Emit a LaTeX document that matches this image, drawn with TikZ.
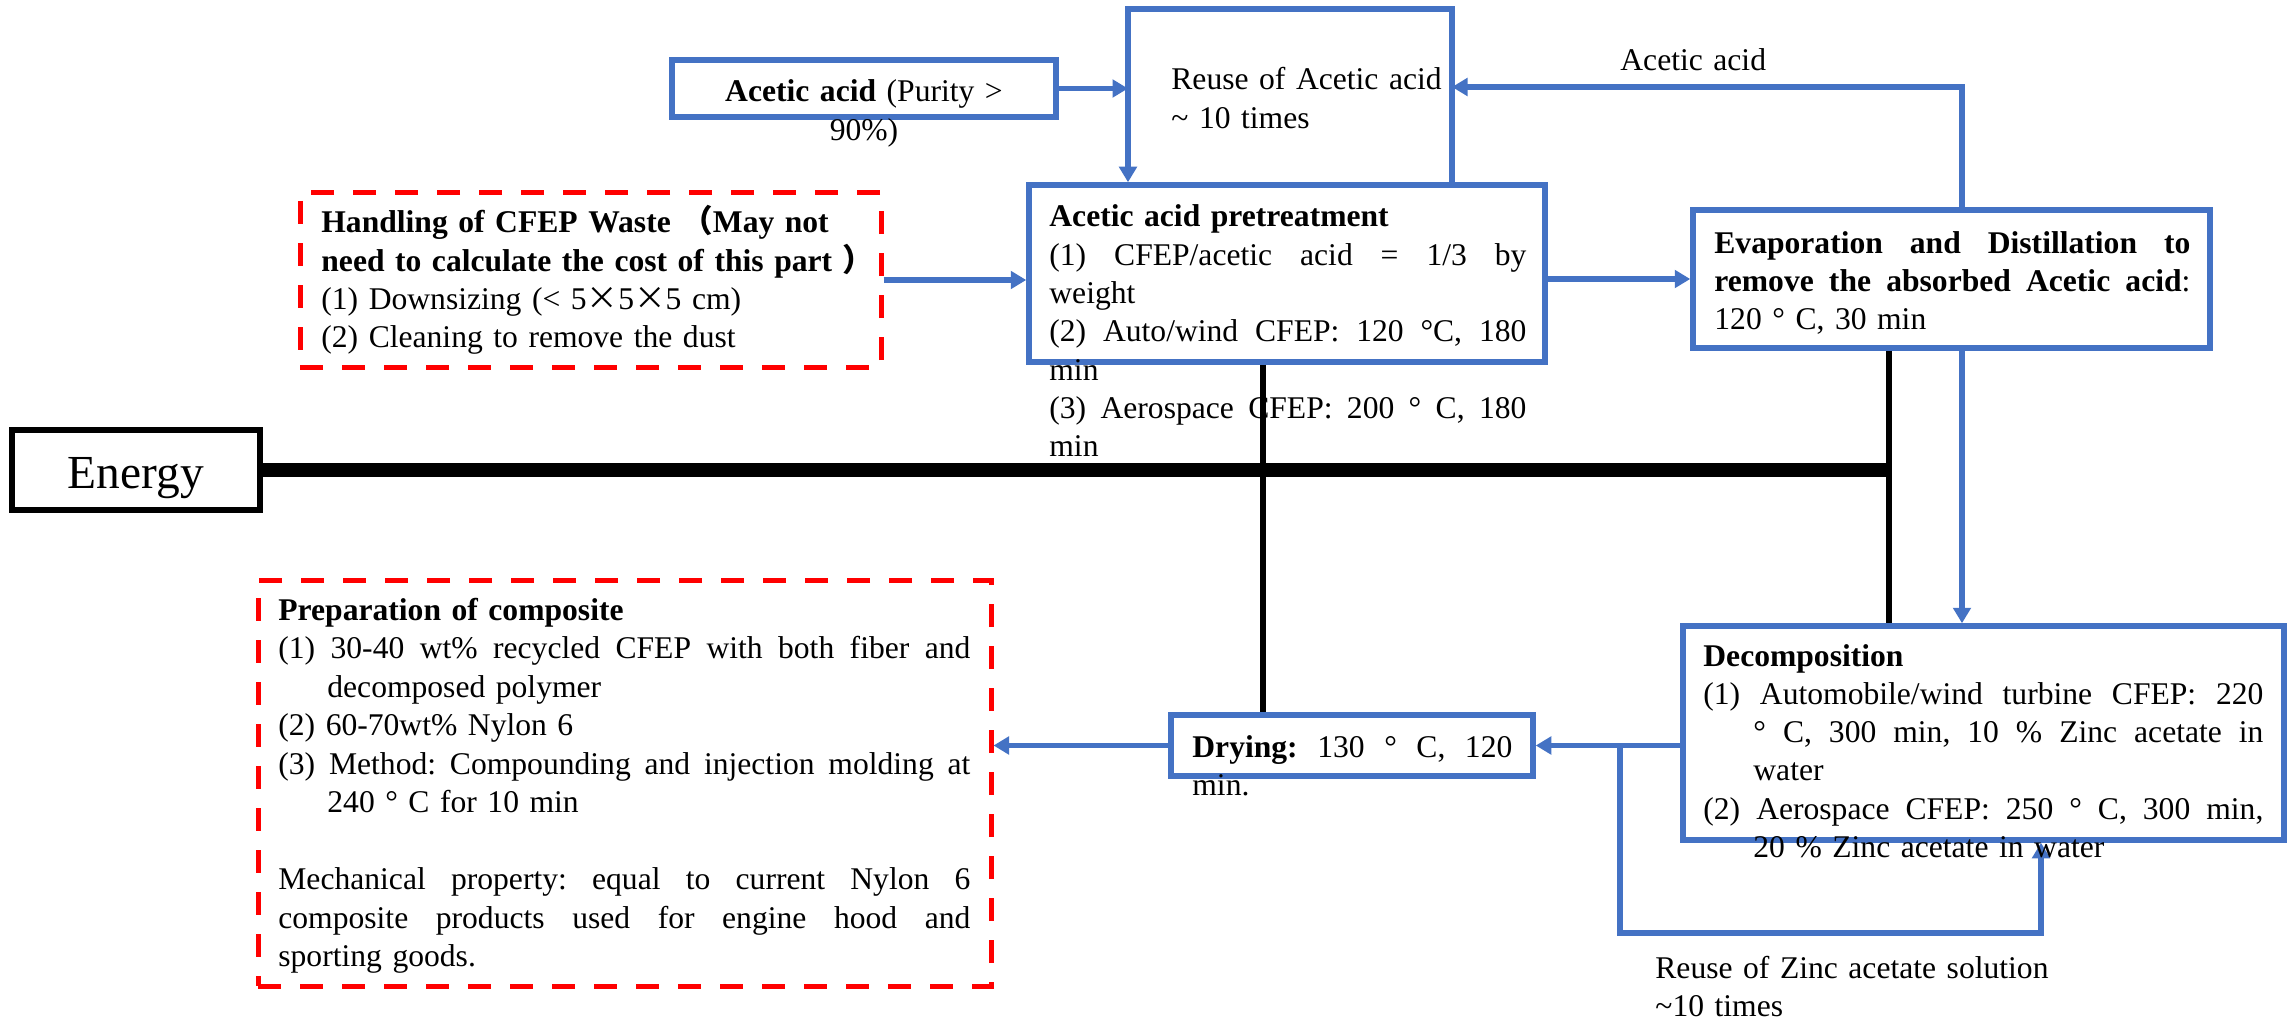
\documentclass[tikz,border=0pt]{standalone}
\usepackage{fontspec}
\setmainfont{Liberation Serif}
\newfontfamily\cjkf{Noto Sans CJK SC}
\usetikzlibrary{arrows.meta,fit}
\definecolor{myblue}{HTML}{4472C4}
\definecolor{myred}{HTML}{FF0000}
\newcommand{\jl}[2]{\makebox[#1][s]{\frenchspacing\spaceskip=0.25em plus 1fil\relax\xspaceskip=\spaceskip #2}}
\tikzset{
  bbox/.style={draw=myblue, line width=2.75pt, inner sep=0pt},
  rbox/.style={draw=myred, line width=2.5pt, dash pattern=on 11.5pt off 9.5pt, inner sep=0pt},
  ebox/.style={draw=black, line width=3pt, inner sep=0pt},
  bl/.style={draw=myblue, line width=2.75pt},
  arr/.style={draw=myblue, line width=2.75pt, -{Triangle[length=7.75pt,width=8.7pt]}},
  blk/.style={draw=black, line width=2.8pt},
  txt/.style={inner sep=0pt, anchor=base west, align=left, font=\fontsize{15.8pt}{19.15pt}\selectfont},
}
\begin{document}
\begin{tikzpicture}[x=0.5pt,y=-0.5pt]
\useasboundingbox (0,0) rectangle (2293,1022);
% boxes
\node[bbox, fit={(672,60) (1056,117)}] (acid) {};
\node[bbox, fit={(1029,185) (1545,362)}] (pre) {};
\node[bbox, fit={(1693,210) (2210,348)}] (evap) {};
\node[bbox, fit={(1171,715) (1533,776)}] (dry) {};
\node[bbox, fit={(1683,626) (2284,840)}] (dec) {};
\node[rbox, fit={(300,193) (881,367)}] (hand) {};
\node[rbox, fit={(258,580) (991,986)}] (prep) {};
\node[ebox, fit={(12,430) (260,510)}] (energy) {};
% helper coordinates
\coordinate (cA) at (1128,9);
\coordinate (cB) at (1452,9);
\coordinate (cC) at (1962,87);
\coordinate (cK) at (1263,0);
\coordinate (cL) at (1889,0);
\coordinate (cZ1) at (1620,933);
\coordinate (cZ2) at (2041,933);
% energy lines
\draw[line width=7pt] (energy.east) -- (energy.east -| cL);
\draw[blk] (pre.south -| cK) -- (dry.north -| cK);
\draw[blk] (evap.south -| cL) -- (dec.north -| cL);
% blue connectors
\draw[arr] (cB |- pre.north) -- (cB) -- (cA) -- (cA |- pre.north);
\draw[arr] (acid.east) -- (acid.east -| cA);
\draw[arr] (evap.north -| cC) -- (cC) -- (cC -| cB);
\draw[arr] (hand.east) -- (hand.east -| pre.west);
\draw[arr] (pre.east |- evap.west) -- (evap.west);
\draw[arr] (evap.south -| cC) -- (dec.north -| cC);
\draw[arr] (dec.west |- dry.east) -- (dry.east);
\draw[arr] (cZ1 |- dry.east) -- (cZ1) -- (cZ2) -- (cZ2 |- dec.south);
\draw[arr] (dry.west) -- (dry.west -| prep.east);
% texts
\node[font=\fontsize{23.7pt}{28pt}\selectfont, inner sep=0pt, anchor=base] (energyt) at (136,488) {Energy};
\node[txt, text width=192pt, align=center, anchor=base] (acidt) at (864,102) {\textbf{Acetic acid} (Purity >\\90\%)};
\node[txt, text width=150pt] (reuset) at (1171,90) {Reuse of Acetic acid\\\textasciitilde\ 10 times};
\node[txt, text width=80pt] (rett) at (1620,71) {Acetic acid};
\node[txt, text width=300pt] (handt) at (321,233) {\textbf{Handling of CFEP Waste {\cjkf （}May not}\\\textbf{need to calculate the cost of this part {\cjkf ）}}\\(1) Downsizing (< 5{\cjkf ×}5{\cjkf ×}5 cm)\\(2) Cleaning to remove the dust};
\node[txt, text width=238.5pt] (pret) at (1049,227) {\textbf{Acetic acid pretreatment}\\\jl{238.5pt}{(1) CFEP/acetic acid = 1/3 by}\\weight\\\jl{238.5pt}{(2) Auto/wind CFEP: 120 °C, 180}\\min\\\jl{238.5pt}{(3) Aerospace CFEP: 200 ° C, 180}\\min};
\node[txt, text width=238pt] (evapt) at (1714,253) {\jl{238pt}{\textbf{Evaporation and Distillation to}}\\\jl{238pt}{\textbf{remove the absorbed Acetic acid}:}\\120 ° C, 30 min};
\node[txt, text width=346pt, font=\fontsize{15.8pt}{19.25pt}\selectfont] (prept) at (278,620) {\textbf{Preparation of composite}\\\jl{346pt}{(1) 30-40 wt\% recycled CFEP with both fiber and}\\\hspace*{24.5pt}decomposed polymer\\(2) 60-70wt\% Nylon 6\\\jl{346pt}{(3) Method: Compounding and injection molding at}\\\hspace*{24.5pt}240 ° C for 10 min\\[19.25pt]\jl{346pt}{Mechanical property: equal to current Nylon 6}\\\jl{346pt}{composite products used for engine hood and}\\sporting goods.};
\node[txt, text width=280pt] (dect) at (1703,666) {\textbf{Decomposition}\\\jl{280pt}{(1) Automobile/wind turbine CFEP: 220}\\\hspace*{25pt}\jl{255pt}{° C, 300 min, 10 \% Zinc acetate in}\\\hspace*{25pt}water\\\jl{280pt}{(2) Aerospace CFEP: 250 ° C, 300 min,}\\\hspace*{25pt}20 \% Zinc acetate in water};
\node[txt, text width=160pt] (dryt) at (1192,757) {\jl{160pt}{\textbf{Drying:} 130 ° C, 120}\\min.};
\node[txt, text width=200pt] (zinct) at (1655,978) {Reuse of Zinc acetate solution\\\textasciitilde10 times};
\end{tikzpicture}
\end{document}
